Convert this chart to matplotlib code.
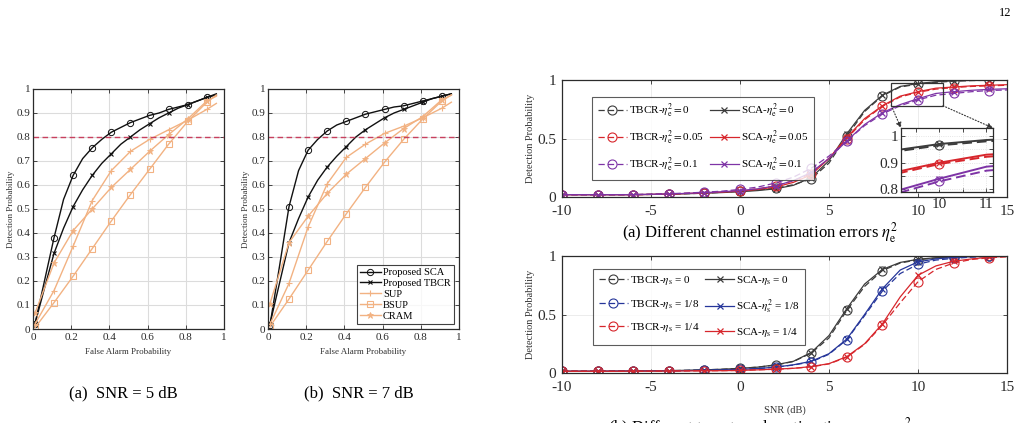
import numpy as np
import matplotlib
matplotlib.use("Agg")
import matplotlib.pyplot as plt
from matplotlib.ticker import FormatStrFormatter
from matplotlib.patches import Rectangle, ConnectionPatch

plt.rcParams["font.family"] = ["Liberation Serif", "DejaVu Serif"]
plt.rcParams["mathtext.fontset"] = "stix"
plt.rcParams["axes.unicode_minus"] = False

# =========================
# DATA - ROC panels
# =========================
FA_FINE = [0.01, 0.06, 0.11, 0.16, 0.21, 0.26, 0.31, 0.36, 0.41, 0.46,
           0.51, 0.56, 0.61, 0.66, 0.71, 0.76, 0.81, 0.86, 0.91, 0.96]
FA_COARSE = [0.01, 0.11, 0.21, 0.31, 0.41, 0.51, 0.61, 0.71, 0.81, 0.91, 0.96]

sca_5db = [0.02, 0.20, 0.38, 0.54, 0.64, 0.71, 0.755, 0.79, 0.82, 0.84,
           0.86, 0.875, 0.89, 0.90, 0.915, 0.925, 0.935, 0.95, 0.965, 0.98]
tbcr_5db = [0.02, 0.17, 0.315, 0.42, 0.51, 0.58, 0.64, 0.69, 0.73, 0.77,
            0.80, 0.83, 0.855, 0.88, 0.90, 0.92, 0.935, 0.95, 0.965, 0.975]
sup_5db = [0.02, 0.16, 0.345, 0.535, 0.66, 0.74, 0.79, 0.83, 0.87, 0.915, 0.94]
bsup_5db = [0.005, 0.11, 0.22, 0.335, 0.45, 0.56, 0.665, 0.77, 0.865, 0.945, 0.975]
cram_5db = [0.065, 0.275, 0.41, 0.50, 0.59, 0.665, 0.74, 0.81, 0.875, 0.95, 0.97]

sca_7db = [0.015, 0.26, 0.51, 0.66, 0.745, 0.79, 0.825, 0.85, 0.865, 0.88,
           0.895, 0.905, 0.915, 0.925, 0.93, 0.94, 0.95, 0.96, 0.97, 0.98]
tbcr_7db = [0.02, 0.19, 0.36, 0.46, 0.55, 0.62, 0.675, 0.72, 0.76, 0.80,
            0.83, 0.855, 0.88, 0.90, 0.915, 0.93, 0.945, 0.96, 0.97, 0.98]
sup_7db = [0.02, 0.19, 0.425, 0.605, 0.715, 0.77, 0.815, 0.845, 0.88, 0.92, 0.945]
bsup_7db = [0.01, 0.125, 0.245, 0.365, 0.48, 0.59, 0.695, 0.79, 0.875, 0.95, 0.975]
cram_7db = [0.105, 0.36, 0.47, 0.565, 0.645, 0.71, 0.775, 0.835, 0.885, 0.955, 0.975]

PD_TARGET = 0.8

# =========================
# DATA - SNR panels
# =========================
SNR = list(range(-10, 16))

sca_e0 = [0.02, 0.02, 0.02, 0.02, 0.02, 0.022, 0.025, 0.028, 0.032, 0.038, 0.045, 0.055, 0.07,
          0.10, 0.165, 0.31, 0.54, 0.74, 0.87, 0.945, 0.97, 0.985, 0.993, 0.997, 1.0, 1.0]
tbcr_e0 = [0.02, 0.02, 0.02, 0.02, 0.02, 0.022, 0.025, 0.028, 0.033, 0.04, 0.05, 0.06, 0.075,
           0.105, 0.155, 0.29, 0.52, 0.73, 0.865, 0.94, 0.965, 0.98, 0.99, 0.995, 0.998, 1.0]
sca_e05 = [0.02, 0.02, 0.02, 0.02, 0.02, 0.022, 0.025, 0.03, 0.035, 0.042, 0.05, 0.065, 0.085,
           0.125, 0.19, 0.33, 0.51, 0.67, 0.78, 0.862, 0.90, 0.93, 0.94, 0.95, 0.955, 0.96]
tbcr_e05 = [0.02, 0.02, 0.02, 0.02, 0.02, 0.022, 0.026, 0.031, 0.037, 0.045, 0.055, 0.07, 0.095,
            0.14, 0.20, 0.33, 0.50, 0.66, 0.775, 0.855, 0.895, 0.922, 0.935, 0.945, 0.95, 0.955]
sca_e1 = [0.02, 0.02, 0.02, 0.02, 0.02, 0.023, 0.026, 0.031, 0.037, 0.045, 0.055, 0.07, 0.095,
          0.14, 0.21, 0.33, 0.48, 0.62, 0.72, 0.79, 0.84, 0.885, 0.9, 0.912, 0.92, 0.925]
tbcr_e1 = [0.02, 0.02, 0.02, 0.02, 0.021, 0.024, 0.028, 0.034, 0.041, 0.05, 0.065, 0.085, 0.12,
           0.17, 0.245, 0.35, 0.48, 0.61, 0.71, 0.78, 0.83, 0.87, 0.885, 0.9, 0.91, 0.915]

sca_s0 = [0.015, 0.015, 0.015, 0.016, 0.017, 0.018, 0.02, 0.023, 0.027, 0.032, 0.04, 0.05, 0.07,
          0.10, 0.175, 0.32, 0.55, 0.76, 0.885, 0.945, 0.972, 0.985, 0.992, 0.996, 0.998, 1.0]
tbcr_s0 = [0.015, 0.015, 0.015, 0.016, 0.017, 0.018, 0.02, 0.023, 0.027, 0.032, 0.04, 0.05, 0.068,
           0.098, 0.17, 0.30, 0.535, 0.74, 0.875, 0.94, 0.968, 0.983, 0.99, 0.995, 0.998, 1.0]
sca_s18 = [0.015, 0.015, 0.015, 0.016, 0.017, 0.018, 0.019, 0.021, 0.023, 0.026, 0.03, 0.038, 0.05,
           0.07, 0.10, 0.165, 0.29, 0.50, 0.72, 0.88, 0.95, 0.975, 0.988, 0.995, 0.998, 1.0]
tbcr_s18 = [0.015, 0.015, 0.015, 0.016, 0.017, 0.018, 0.019, 0.021, 0.023, 0.026, 0.03, 0.038, 0.05,
            0.068, 0.095, 0.16, 0.285, 0.49, 0.70, 0.85, 0.93, 0.965, 0.98, 0.99, 0.996, 0.999]
sca_s14 = [0.015, 0.015, 0.015, 0.015, 0.016, 0.016, 0.017, 0.018, 0.019, 0.02, 0.022, 0.027, 0.033,
           0.04, 0.055, 0.08, 0.14, 0.25, 0.42, 0.65, 0.835, 0.915, 0.955, 0.975, 0.99, 0.997]
tbcr_s14 = [0.015, 0.015, 0.015, 0.015, 0.016, 0.016, 0.017, 0.018, 0.019, 0.02, 0.022, 0.027, 0.032,
            0.04, 0.052, 0.078, 0.135, 0.245, 0.41, 0.60, 0.78, 0.885, 0.94, 0.97, 0.985, 0.993]

# =========================
# STYLE
# =========================
BLACK = "#111111"
ORANGE = "#F2B282"
DASH_RED = "#C8405E"
GREY = "#3c3c3c"
RED = "#D7262C"
PURPLE = "#7E34A6"
BLUE = "#26369A"
AX_COL = "#2b2b2b"

W, H = 1025, 423
fig = plt.figure(figsize=(W / 100, H / 100), dpi=100)


def px_axes(left, top, right, bottom):
    return fig.add_axes([left / W, 1 - bottom / H, (right - left) / W, (bottom - top) / H])


def style_axes(ax, fs, xpad=2, ypad=2):
    ax.tick_params(direction="in", top=True, right=True, labelsize=fs, length=3,
                   width=0.6, colors=AX_COL, pad=ypad)
    ax.tick_params(axis="x", pad=xpad)
    for s in ax.spines.values():
        s.set_color(AX_COL)
        s.set_linewidth(0.9)


# =========================
# ROC PANELS
# =========================
roc = [
    (px_axes(33, 89, 224, 329), sca_5db, tbcr_5db, sup_5db, bsup_5db, cram_5db, "(a)  SNR = 5 dB", 123),
    (px_axes(268, 89, 459, 329), sca_7db, tbcr_7db, sup_7db, bsup_7db, cram_7db, "(b)  SNR = 7 dB", 359),
]
coarse_marks = list(range(10))
for i, (ax, sca, tbcr, sup, bsup, cram, cap, cx) in enumerate(roc):
    ax.plot(FA_FINE, sca, color=BLACK, lw=1.0, marker="o", ms=4.5, mfc="none",
            mew=0.7, markevery=list(range(0, 19, 2)), label="Proposed SCA")
    ax.plot(FA_FINE, tbcr, color=BLACK, lw=1.0, marker="x", ms=3.5,
            mew=0.8, markevery=list(range(0, 19, 2)), label="Proposed TBCR")
    ax.plot(FA_COARSE, sup, color=ORANGE, lw=1.0, marker="+", ms=5,
            mew=0.8, markevery=coarse_marks, label="SUP")
    ax.plot(FA_COARSE, bsup, color=ORANGE, lw=1.0, marker="s", ms=4, mfc="none",
            mew=0.8, markevery=coarse_marks, label="BSUP")
    ax.plot(FA_COARSE, cram, color=ORANGE, lw=1.0, marker="*", ms=5,
            mew=0.6, markevery=coarse_marks, label="CRAM")
    ax.axhline(PD_TARGET, color=DASH_RED, ls=(0, (4, 2.5)), lw=1.0)
    ax.set_xlim(0, 1)
    ax.set_ylim(0, 1)
    ax.set_xticks(np.linspace(0, 1, 6))
    ax.set_yticks(np.linspace(0, 1, 11))
    ax.xaxis.set_major_formatter(FormatStrFormatter("%g"))
    ax.yaxis.set_major_formatter(FormatStrFormatter("%g"))
    ax.grid(True, color="#dcdcdc", lw=0.8)
    ax.set_axisbelow(True)
    style_axes(ax, 8, xpad=3)
    ax.set_xlabel("False Alarm Probability", fontsize=6.5, color="#333333", labelpad=4)
    ax.set_ylabel("Detection Probability", fontsize=6.5, color="#333333", labelpad=1)
    fig.text(cx / W, 1 - 393 / H, cap, ha="center", va="center", fontsize=12)
    if i == 1:
        ax.legend(loc="lower right", fontsize=7.5, frameon=True, fancybox=False,
                  edgecolor=BLACK, handlelength=2.0, handletextpad=0.2,
                  labelspacing=0.15, borderpad=0.3, borderaxespad=0.5).get_frame().set_linewidth(0.8)

# =========================
# SNR PANELS
# =========================
ax_top = px_axes(562, 80, 1007, 197)
ax_bot = px_axes(562, 256, 1007, 373)

top_series = [
    (tbcr_e0, sca_e0, GREY, r"$=$0"),
    (tbcr_e05, sca_e05, RED, r"$=$0.05"),
    (tbcr_e1, sca_e1, PURPLE, r"$=$0.1"),
]
bot_series = [
    (tbcr_s0, sca_s0, GREY, "= 0", "= 0"),
    (tbcr_s18, sca_s18, BLUE, "= 1/8", "= 1/8"),
    (tbcr_s14, sca_s14, RED, "= 1/4", "= 1/4"),
]


def draw_pair(ax, tb, sc, col, tb_lab, sc_lab, lw=0.9):
    h1, = ax.plot(SNR, tb, color=col, ls=(0, (5, 2.5)), lw=lw, marker="o", ms=6.5,
                  mfc="none", mew=0.8, markevery=2, label=tb_lab)
    h2, = ax.plot(SNR, sc, color=col, ls="-", lw=lw, marker="x", ms=4.5,
                  mew=0.9, markevery=2, label=sc_lab)
    return h1, h2


leg_kw = dict(ncol=2, loc="upper left", fontsize=8, frameon=True, fancybox=False,
              edgecolor="#333333", handlelength=2.6, handletextpad=0.2,
              columnspacing=0.5, borderpad=0.5)

tb_h, sc_h = [], []
for tb, sc, col, val in top_series:
    h1, h2 = draw_pair(ax_top, tb, sc, col,
                       r"TBCR-$\eta_{\rm e}^{2}$" + val, r"SCA-$\eta_{\rm e}^{2}$" + val)
    tb_h.append(h1)
    sc_h.append(h2)
leg = ax_top.legend(tb_h + sc_h, [h.get_label() for h in tb_h + sc_h],
                    bbox_to_anchor=(0.056, 0.905), labelspacing=0.8, **leg_kw)
leg.get_frame().set_linewidth(0.8)

tb_h, sc_h = [], []
for k, (tb, sc, col, tv, sv) in enumerate(bot_series):
    sc_eta = r"SCA-$\eta_{\rm s}^{2}$ " if k == 1 else r"SCA-$\eta_{\rm s}$ "
    h1, h2 = draw_pair(ax_bot, tb, sc, col, r"TBCR-$\eta_{\rm s}$ " + tv, sc_eta + sv)
    tb_h.append(h1)
    sc_h.append(h2)
leg = ax_bot.legend(tb_h + sc_h, [h.get_label() for h in tb_h + sc_h],
                    bbox_to_anchor=(0.058, 0.94), labelspacing=0.95, **leg_kw)
leg.get_frame().set_linewidth(0.8)

for ax in (ax_top, ax_bot):
    ax.set_xlim(-10, 15)
    ax.set_ylim(0, 1)
    ax.set_xticks(range(-10, 16, 5))
    ax.set_yticks([0, 0.5, 1])
    ax.yaxis.set_major_formatter(FormatStrFormatter("%g"))
    ax.grid(True, color="#ececec", lw=0.7)
    ax.set_axisbelow(True)
    style_axes(ax, 11, xpad=6, ypad=4)
    ax.set_ylabel("Detection Probability", fontsize=7.5, color="#333333", labelpad=2)

ax_bot.set_xlabel("SNR (dB)", fontsize=7.5, color="#333333", labelpad=8)
fig.text(760 / W, 1 - 233 / H, r"(a) Different channel estimation errors $\eta_{\rm e}^{2}$",
         ha="center", va="center", fontsize=12)
fig.text(760 / W, 1 - 428 / H, r"(b) Different target angle estimation errors $\eta_{\rm s}^{2}$",
         ha="center", va="center", fontsize=12)

# zoomed inset for the top panel
ins = px_axes(901, 128, 993, 192)
for tb, sc, col, val in top_series:
    draw_pair(ins, tb, sc, col, None, None, lw=1.4)
ins.set_xlim(9.18, 11.14)
ins.set_ylim(0.79, 1.03)
ins.set_xticks([9.5, 10, 10.5, 11])
ins.set_xticklabels(["", "10", "", "11"])
ins.set_yticks([0.8, 0.85, 0.9, 0.95, 1.0])
ins.set_yticklabels(["0.8", "", "0.9", "", "1"])
ins.grid(True, color="#dddddd", lw=0.6, ls=":")
style_axes(ins, 11, xpad=4)
ins.set_facecolor("white")

zoom_box = (8.5, 0.78, 2.9, 0.195)
ax_top.add_patch(Rectangle(zoom_box[:2], zoom_box[2], zoom_box[3], fill=False,
                           edgecolor="#333333", lw=0.9, zorder=5))
for cx, ix in ((zoom_box[0], 0), (zoom_box[0] + zoom_box[2], 1)):
    con = ConnectionPatch(xyA=(cx, zoom_box[1]), coordsA=ax_top.transData,
                          xyB=(ix, 1.0), coordsB=ins.transAxes,
                          arrowstyle="-|>", linestyle=":", color="#333333",
                          lw=0.8, mutation_scale=8)
    fig.add_artist(con)

fig.text(1005 / W, 1 - 13 / H, "12", ha="center", va="center", fontsize=9)

fig.savefig("out.png", dpi=100)
